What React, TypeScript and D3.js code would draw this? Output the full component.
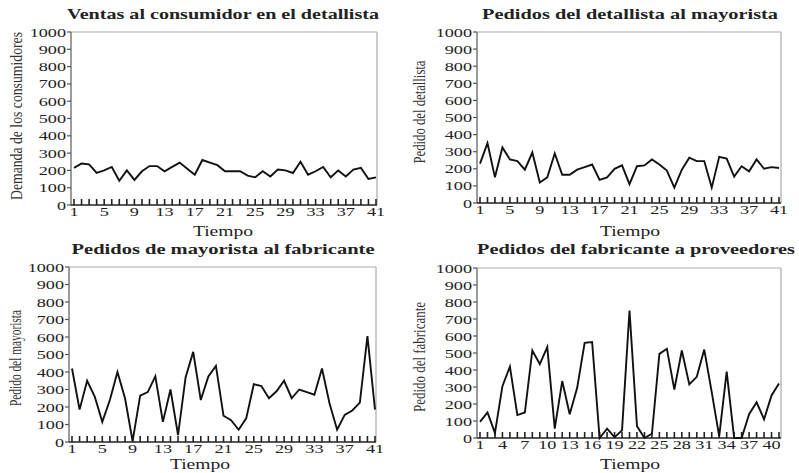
import React from "react";
import * as d3 from "d3";

// periods 1..41
const periods = d3.range(1, 42);

const ventasConsumidor = [
  215, 240, 235, 185, 200, 220, 140, 200, 145, 195, 225, 225, 195, 220, 245, 210, 175, 260, 245, 230,
  195, 195, 195, 170, 160, 195, 165, 205, 200, 185, 250, 175, 195, 220, 160, 200, 165, 205, 215, 150, 160,
];
const pedidosDetallista = [
  230, 350, 150, 325, 255, 245, 195, 295, 120, 150, 290, 165, 165, 195, 210, 225, 135, 150, 200, 220,
  110, 215, 220, 255, 225, 190, 90, 195, 265, 245, 245, 90, 270, 260, 155, 215, 185, 255, 200, 210, 205,
];
const pedidosMayorista = [
  420, 185, 350, 260, 115, 240, 400, 250, 5, 265, 285, 375, 115, 300, 40, 370, 515, 240, 375, 435,
  150, 125, 70, 135, 330, 320, 250, 290, 350, 250, 300, 285, 270, 420, 220, 70, 155, 180, 225, 605, 185,
];
const pedidosFabricante = [
  95, 150, 30, 305, 420, 135, 150, 515, 435, 535, 55, 335, 140, 295, 560, 565, 0, 55, 5, 45,
  750, 70, 0, 25, 495, 525, 285, 515, 315, 360, 520, 270, 10, 390, 0, 0, 140, 210, 110, 250, 320,
];

const yTicks = [0, 100, 200, 300, 400, 500, 600, 700, 800, 900, 1000];
const xLabelsEvery4 = [1, 5, 9, 13, 17, 21, 25, 29, 33, 37, 41];
const xLabelsEvery3 = [1, 4, 7, 10, 13, 16, 19, 22, 25, 28, 31, 34, 37, 40];

const SERIF = "'Liberation Serif', 'Times New Roman', serif";
const SX = 1.4; // the picture is stretched sideways

type Box = { left: number; right: number; x1: number; x41: number; top: number; bottom: number };

type PanelProps = {
  title: string;
  titleX: number;
  titleY: number;
  titleLen: number;
  yLabel: string;
  yLabelX: number;
  yLabelY: number;
  yLabelLen: number;
  tiempoX: number;
  tiempoY: number;
  values: number[];
  xLabels: number[];
  box: Box;
};

const SText = ({ x, y, anchor = "middle", size = 13, children, fill = "#222" }: any) => (
  <text
    transform={`translate(${x},${y}) scale(${SX},1)`}
    textAnchor={anchor}
    fontFamily={SERIF}
    fontSize={size}
    fill={fill}
  >
    {children}
  </text>
);

const Panel = (p: PanelProps) => {
  const { box } = p;
  const x = d3.scaleLinear().domain([1, 41]).range([box.x1, box.x41]);
  const y = d3.scaleLinear().domain([0, 1000]).range([box.bottom, box.top]);

  const line = d3
    .line<number>()
    .x((_, i) => x(periods[i]))
    .y((d) => y(d));

  return (
    <g>
      <text
        x={p.titleX}
        y={p.titleY}
        textAnchor="middle"
        fontFamily={SERIF}
        fontWeight="bold"
        fontSize={15}
        fill="#222"
        textLength={p.titleLen}
        lengthAdjust="spacingAndGlyphs"
      >
        {p.title}
      </text>

      {/* frame */}
      <line x1={box.left} x2={box.right} y1={box.top} y2={box.top} stroke="#aaa" strokeWidth={1.2} />
      <line x1={box.right} x2={box.right} y1={box.top} y2={box.bottom} stroke="#aaa" strokeWidth={1.2} />
      <line x1={box.left} x2={box.left} y1={box.top} y2={box.bottom} stroke="#666" strokeWidth={1.3} />
      <line x1={box.left} x2={box.right} y1={box.bottom} y2={box.bottom} stroke="#222" strokeWidth={1.5} />

      {/* y ticks */}
      {yTicks.map((t) => (
        <g key={"y" + t}>
          <line x1={box.left - 4} x2={box.left} y1={y(t)} y2={y(t)} stroke="#555" strokeWidth={1.2} />
          <SText x={box.left - 5} y={y(t) + 4.5} anchor="end">
            {t}
          </SText>
        </g>
      ))}

      {/* x ticks, inward */}
      {periods.map((t) => (
        <line
          key={"x" + t}
          x1={x(t)}
          x2={x(t)}
          y1={box.bottom}
          y2={box.bottom - 6}
          stroke="#222"
          strokeWidth={1.6}
        />
      ))}
      {p.xLabels.map((t) => (
        <SText key={"xl" + t} x={x(t)} y={box.bottom + 11}>
          {t}
        </SText>
      ))}

      <SText x={p.tiempoX} y={p.tiempoY} size={14}>
        Tiempo
      </SText>

      <text
        transform={`translate(${p.yLabelX},${p.yLabelY}) rotate(-90)`}
        textAnchor="middle"
        dominantBaseline="middle"
        fontFamily={SERIF}
        fontSize={16}
        fill="#333"
        textLength={p.yLabelLen}
        lengthAdjust="spacingAndGlyphs"
      >
        {p.yLabel}
      </text>

      <path d={line(p.values) || ""} fill="none" stroke="#111" strokeWidth={1.9} strokeLinejoin="miter" />
    </g>
  );
};

export default function App() {
  return (
    <svg width={799} height={473} style={{ position: "absolute", left: 0, top: 0, background: "#fff" }}>
      <rect width={799} height={473} fill="#fff" />
      <Panel
        title="Ventas al consumidor en el detallista"
        titleX={223}
        titleY={19}
        titleLen={312}
        yLabel="Demanda de los consumidores"
        yLabelX={18}
        yLabelY={116}
        yLabelLen={168}
        tiempoX={223}
        tiempoY={236}
        values={ventasConsumidor}
        xLabels={xLabelsEvery4}
        box={{ left: 71, right: 377, x1: 74, x41: 376, top: 32, bottom: 205 }}
      />
      <Panel
        title="Pedidos del detallista al mayorista"
        titleX={630}
        titleY={19}
        titleLen={296}
        yLabel="Pedido del detallista"
        yLabelX={421}
        yLabelY={112}
        yLabelLen={103}
        tiempoX={630}
        tiempoY={236}
        values={pedidosDetallista}
        xLabels={xLabelsEvery4}
        box={{ left: 477, right: 781, x1: 480, x41: 779, top: 32, bottom: 203 }}
      />
      <Panel
        title="Pedidos de mayorista al fabricante"
        titleX={223}
        titleY={254}
        titleLen={303}
        yLabel="Pedido del mayorista"
        yLabelX={17}
        yLabelY={358}
        yLabelLen={96}
        tiempoX={200}
        tiempoY={469}
        values={pedidosMayorista}
        xLabels={xLabelsEvery4}
        box={{ left: 69, right: 376, x1: 72, x41: 375, top: 267, bottom: 442 }}
      />
      <Panel
        title="Pedidos del fabricante a proveedores"
        titleX={636}
        titleY={254}
        titleLen={318}
        yLabel="Pedido del fabricante"
        yLabelX={421}
        yLabelY={357}
        yLabelLen={110}
        tiempoX={630}
        tiempoY={469}
        values={pedidosFabricante}
        xLabels={xLabelsEvery3}
        box={{ left: 477, right: 781, x1: 480, x41: 779, top: 268, bottom: 438 }}
      />
    </svg>
  );
}
